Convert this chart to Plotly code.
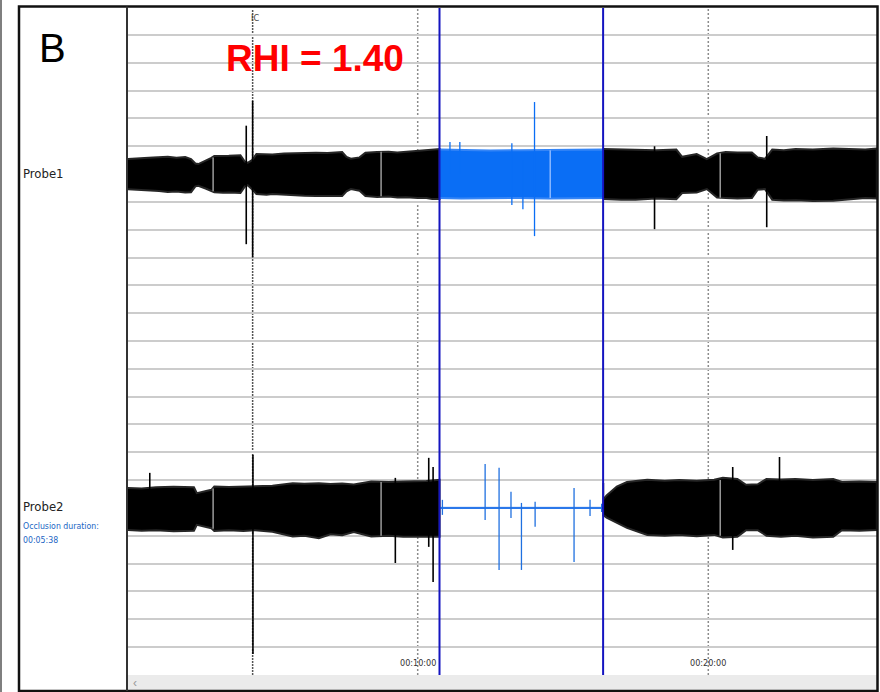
import plotly.graph_objects as go

# ---- time axis (minutes from start of recording) ----
tick_minutes = [10, 20]
tick_labels = ["00:10:00", "00:20:00"]

occlusion_start = 10.75
occlusion_end = 16.38
ic_time = 4.32

# channel baselines (grid units)
probe1_base = 17.0
probe2_base = 5.0

# ---- Probe1 pulse envelope (amplitude above / below baseline) ----
p1_pre_t = [0.0, 0.3, 0.6, 0.9, 1.1, 1.4, 1.7, 2.0, 2.2, 2.35, 2.45, 2.7, 2.9, 3.0, 3.3, 3.5, 3.9, 4.05, 4.15, 4.3,
            4.45, 4.8, 5.0, 5.4, 5.7, 6.1, 6.5, 6.9, 7.4, 7.55, 7.7, 8.0, 8.2, 8.6, 9.0, 9.3, 9.6, 10.0, 10.3, 10.5, 10.75]
p1_pre_up = [0.54, 0.57, 0.58, 0.60, 0.61, 0.62, 0.59, 0.61, 0.54, 0.38, 0.36, 0.47, 0.58, 0.65, 0.64, 0.66, 0.68, 0.45, 0.40, 0.50,
             0.72, 0.70, 0.70, 0.74, 0.75, 0.76, 0.77, 0.76, 0.79, 0.62, 0.55, 0.60, 0.77, 0.79, 0.80, 0.78, 0.81, 0.83, 0.86, 0.90, 0.90]
p1_pre_lo = [-0.54, -0.56, -0.58, -0.60, -0.61, -0.64, -0.63, -0.66, -0.65, -0.44, -0.42, -0.52, -0.60, -0.65, -0.67, -0.66, -0.68, -0.45, -0.40, -0.55,
             -0.72, -0.74, -0.72, -0.75, -0.75, -0.78, -0.79, -0.80, -0.79, -0.62, -0.54, -0.60, -0.79, -0.82, -0.81, -0.84, -0.83, -0.86, -0.86, -0.90, -0.90]

p1_occ_t = [10.75, 11.5, 12.5, 13.5, 14.5, 15.5, 16.38]
p1_occ_up = [0.88, 0.86, 0.85, 0.86, 0.86, 0.87, 0.88]
p1_occ_lo = [-0.86, -0.88, -0.88, -0.86, -0.88, -0.87, -0.86]

p1_post_t = [16.38, 17.0, 17.5, 18.2, 18.9, 19.1, 19.6, 19.95, 20.3, 20.6, 21.0, 21.5, 21.7, 21.95, 22.2,
             22.6, 23.0, 23.6, 24.3, 25.0, 25.4, 25.8]
p1_post_up = [0.90, 0.88, 0.88, 0.86, 0.88, 0.62, 0.72, 0.54, 0.74, 0.79, 0.78, 0.78, 0.60, 0.55, 0.88,
              0.86, 0.90, 0.88, 0.92, 0.90, 0.88, 0.92]
p1_post_lo = [-0.90, -0.92, -0.92, -0.88, -0.90, -0.68, -0.66, -0.54, -0.84, -0.86, -0.88, -0.86, -0.56, -0.54, -0.92,
              -0.95, -0.94, -0.97, -0.96, -0.90, -0.86, -0.88]

# ---- Probe2 pulse envelope ----
p2_pre_t = [0.0, 0.5, 1.0, 1.6, 2.3, 2.4, 2.9, 3.0, 3.5, 4.0, 4.4, 5.0, 5.7, 6.1, 6.6, 7.0, 7.4, 7.8, 8.4, 9.0, 9.5, 10.3, 10.75]
p2_pre_up = [0.72, 0.70, 0.74, 0.76, 0.74, 0.53, 0.65, 0.77, 0.75, 0.76, 0.78, 0.80, 0.89, 0.87, 0.89, 0.86, 0.88, 0.84, 0.95, 0.93, 0.95, 0.97, 1.01]
p2_pre_lo = [-0.79, -0.82, -0.80, -0.84, -0.82, -0.61, -0.73, -0.83, -0.80, -0.83, -0.80, -0.86, -1.03, -1.00, -1.09, -0.95, -0.98, -0.87, -1.03, -1.00, -1.04, -1.04, -1.04]

p2_occ_t = [10.75, 16.38]
p2_occ_up = [0.02, 0.02]
p2_occ_lo = [-0.02, -0.02]

p2_post_t = [16.38, 16.5, 16.85, 17.2, 17.9, 18.5, 19.0, 19.6, 20.2, 20.5, 21.0, 21.3, 21.7, 22.0,
             22.5, 23.0, 23.6, 24.3, 24.6, 25.2, 25.8]
p2_post_up = [0.30, 0.45, 0.77, 0.93, 1.01, 0.98, 1.00, 0.98, 1.01, 1.08, 1.04, 0.83, 0.85, 1.04,
              1.02, 1.04, 1.00, 1.04, 0.93, 0.95, 0.93]
p2_post_lo = [-0.25, -0.35, -0.54, -0.72, -0.97, -1.00, -0.97, -1.02, -0.97, -1.06, -1.04, -0.80, -0.80, -1.00,
              -1.04, -1.00, -1.06, -1.04, -0.80, -0.82, -0.79]

# ---- artefact spikes (time, high, low) ----
p1_black_spk_t = [4.10, 4.32, 18.15, 22.01]
p1_black_spk_hi = [1.74, 2.63, 1.00, 1.37]
p1_black_spk_lo = [-2.52, -3.00, -1.98, -1.91]

p1_blue_spk_t = [11.11, 11.45, 13.24, 13.62, 14.02]
p1_blue_spk_hi = [1.15, 1.15, 1.11, 0.50, 2.59]
p1_blue_spk_lo = [0.0, 0.0, -1.11, -1.26, -2.23]

p2_black_spk_t = [0.78, 4.33, 9.23, 10.38, 10.53, 16.39, 20.84, 22.45]
p2_black_spk_hi = [1.26, 1.91, 1.08, 1.80, 1.47, 0.90, 1.47, 1.83]
p2_black_spk_lo = [0.0, -5.25, -1.98, -1.40, -2.66, -0.30, -1.51, 0.0]

p2_blue_spk_t = [10.85, 12.32, 12.80, 13.21, 13.57, 14.04, 15.38, 15.93, 16.33]
p2_blue_spk_hi = [0.29, 1.58, 1.44, 0.58, 0.18, 0.22, 0.72, 0.29, 0.15]
p2_blue_spk_lo = [-0.25, -0.43, -2.23, -0.36, -2.23, -0.68, -1.94, -0.29, -0.15]

# faint streaks inside the envelopes
p1_gray_t = [2.96, 8.74, 20.41]
p1_gray_hi = [0.60, 0.80, 0.75]
p1_gray_lo = [-0.62, -0.80, -0.85]
p1_lblue_t = [14.56]
p1_lblue_hi = [0.86]
p1_lblue_lo = [-0.86]
p2_gray_t = [2.96, 8.74, 20.41]
p2_gray_hi = [0.70, 0.93, 1.00]
p2_gray_lo = [-0.75, -1.00, -1.00]

BLACK = "#000000"
SIG_BLUE = "#0a6ef5"
MARK_BLUE = "#1414c0"
TXT_BLUE = "#2266c4"
NARROW = "Liberation Sans Narrow, Arial Narrow, DejaVu Sans Condensed, sans-serif"
ARIAL = "Liberation Sans, Arial, sans-serif"


def band(t, up, lo, base, fill, edge, edge_w=2.0):
    xs = list(t) + list(t)[::-1]
    ys = [base + u for u in up] + [base + v for v in lo][::-1]
    return go.Scatter(x=xs, y=ys, mode="lines", fill="toself", fillcolor=fill,
                      line=dict(color=edge, width=edge_w), hoverinfo="skip", showlegend=False)


def spikes(t, hi, lo, base, color, width=1.2):
    xs, ys = [], []
    for a, h, l in zip(t, hi, lo):
        xs += [a, a, None]
        ys += [base + h, base + l, None]
    return go.Scatter(x=xs, y=ys, mode="lines", line=dict(color=color, width=width),
                      hoverinfo="skip", showlegend=False)


fig = go.Figure()
fig.add_trace(band(p1_pre_t, p1_pre_up, p1_pre_lo, probe1_base, BLACK, "#262626"))
fig.add_trace(band(p1_occ_t, p1_occ_up, p1_occ_lo, probe1_base, SIG_BLUE, "#3585f6"))
fig.add_trace(band(p1_post_t, p1_post_up, p1_post_lo, probe1_base, BLACK, "#262626"))
fig.add_trace(band(p2_pre_t, p2_pre_up, p2_pre_lo, probe2_base, BLACK, "#262626"))
fig.add_trace(band(p2_occ_t, p2_occ_up, p2_occ_lo, probe2_base, SIG_BLUE, "#2a78ea", 1.0))
fig.add_trace(band(p2_post_t, p2_post_up, p2_post_lo, probe2_base, BLACK, "#262626"))

fig.add_trace(spikes(p1_gray_t, p1_gray_hi, p1_gray_lo, probe1_base, "#9a9a9a", 1.5))
fig.add_trace(spikes(p1_lblue_t, p1_lblue_hi, p1_lblue_lo, probe1_base, "#8ab8ff", 1.5))
fig.add_trace(spikes(p2_gray_t, p2_gray_hi, p2_gray_lo, probe2_base, "#9a9a9a", 1.5))
fig.add_trace(spikes(p1_black_spk_t, p1_black_spk_hi, p1_black_spk_lo, probe1_base, BLACK, 1.6))
fig.add_trace(spikes(p1_blue_spk_t, p1_blue_spk_hi, p1_blue_spk_lo, probe1_base, SIG_BLUE, 1.3))
fig.add_trace(spikes(p2_black_spk_t, p2_black_spk_hi, p2_black_spk_lo, probe2_base, BLACK, 1.6))
fig.add_trace(spikes(p2_blue_spk_t, p2_blue_spk_hi, p2_blue_spk_lo, probe2_base, "#1f70e0", 1.3))

# ---- page geometry (pixels) ----
W, H = 880, 692
PL, PR, PT, PB = 128, 877, 8, 675


def px(xp):
    return (xp - PL) / (PR - PL)


def py(yp):
    return (PB - yp) / (PB - PT)


shapes = []
# dotted time gridlines
for m in tick_minutes:
    shapes.append(dict(type="line", xref="x", yref="paper", x0=m, x1=m, y0=0, y1=1,
                       line=dict(color="#8c8c8c", width=1.5, dash="2px,2px"), layer="below"))
# IC event marker
shapes.append(dict(type="line", xref="x", yref="paper", x0=ic_time, x1=ic_time, y0=0, y1=py(10),
                   line=dict(color="#555555", width=1.5, dash="2px,1px"), layer="below"))
# occlusion start / end markers
for m in (occlusion_start, occlusion_end):
    shapes.append(dict(type="line", xref="x", yref="paper", x0=m, x1=m, y0=0, y1=1,
                       line=dict(color=MARK_BLUE, width=2), layer="above"))
# scrollbar strip
shapes.append(dict(type="rect", xref="paper", yref="paper", x0=px(128), x1=px(877), y0=py(691), y1=py(675),
                   fillcolor="#ebebeb", line=dict(width=0), layer="above"))
# frames
shapes.append(dict(type="rect", xref="paper", yref="paper", x0=px(19), x1=px(877.5), y0=py(691), y1=py(6.5),
                   line=dict(color="#111111", width=2.5), layer="above"))
shapes.append(dict(type="line", xref="paper", yref="paper", x0=px(127), x1=px(127), y0=py(691), y1=py(6.5),
                   line=dict(color="#333333", width=2), layer="above"))
shapes.append(dict(type="line", xref="paper", yref="paper", x0=px(1), x1=px(1), y0=py(692), y1=py(0),
                   line=dict(color="#555555", width=1.5), layer="above"))

annotations = []
for m, lab in zip(tick_minutes, tick_labels):
    annotations.append(dict(x=m, y=py(663), xref="x", yref="paper", text=lab, showarrow=False,
                            font=dict(family=NARROW, size=9, color="#333333"),
                            xanchor="center", yanchor="middle"))
annotations += [
    dict(x=px(52.5), y=py(47.5), text="B", font=dict(family=ARIAL, size=40, color="#000000")),
    dict(x=px(315), y=py(59), text="<b>RHI = 1.40</b>", font=dict(family=ARIAL, size=37, color="#ff0000")),
    dict(x=px(254.5), y=py(18), text="IC", font=dict(family=NARROW, size=9, color="#444444")),
    dict(x=px(21), y=py(174), text="Probe1", xanchor="left", font=dict(family=NARROW, size=13, color="#222222")),
    dict(x=px(21), y=py(506), text="Probe2", xanchor="left", font=dict(family=NARROW, size=13, color="#222222")),
    dict(x=px(21), y=py(526), text="Occlusion duration:", xanchor="left",
         font=dict(family=NARROW, size=8.7, color=TXT_BLUE)),
    dict(x=px(21), y=py(539.5), text="00:05:38", xanchor="left",
         font=dict(family=NARROW, size=8.7, color=TXT_BLUE)),
    dict(x=px(134.5), y=py(683), text="‹", font=dict(family=ARIAL, size=12, color="#9a9a9a")),
]
for a in annotations:
    a.setdefault("xref", "paper")
    a.setdefault("yref", "paper")
    a.setdefault("showarrow", False)
    a.setdefault("xanchor", "center")
    a.setdefault("yanchor", "middle")

fig.update_layout(
    width=W, height=H,
    margin=dict(l=PL, r=W - PR, t=PT, b=H - PB, pad=0),
    paper_bgcolor="white", plot_bgcolor="white",
    showlegend=False,
    xaxis=dict(range=[0.031, 25.805], showgrid=False, zeroline=False, showticklabels=False,
               ticks="", showline=False, fixedrange=True),
    yaxis=dict(range=[-1.006, 22.97], tick0=0, dtick=1, showgrid=True, gridcolor="#cccccc",
               gridwidth=1.5, zeroline=False, showticklabels=False, ticks="", showline=False,
               fixedrange=True),
    shapes=shapes,
    annotations=annotations,
)

fig.write_html("out.html", config={"displayModeBar": False})
